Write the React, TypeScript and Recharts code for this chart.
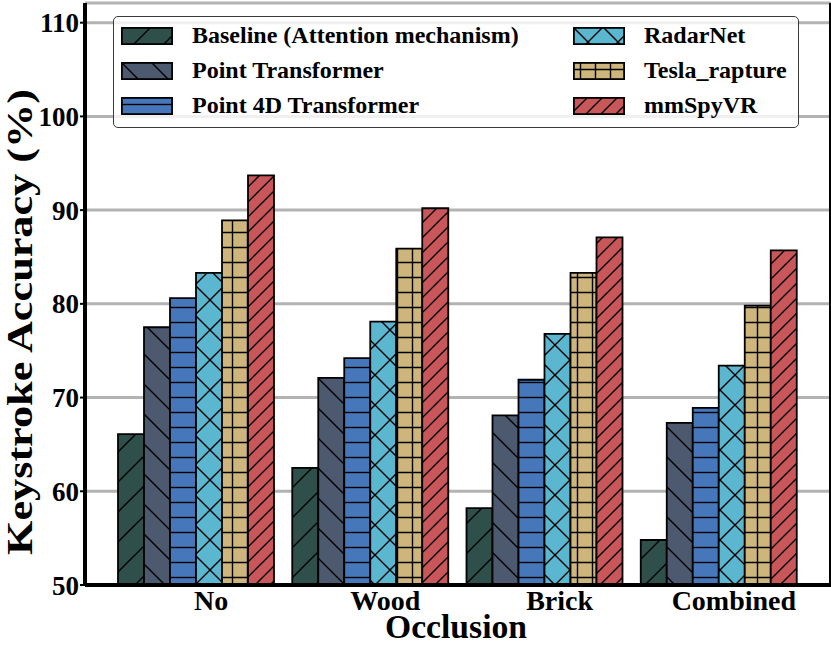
import React from "react";
import {
	BarChart,
	Bar,
	XAxis,
	YAxis,
	CartesianGrid,
	Label,
} from "recharts";

const categories = ["No", "Wood", "Brick", "Combined"];

// keystroke accuracy (%) per occlusion type
const baseline = [66.1, 62.5, 58.2, 54.8];
const pointTransformer = [77.5, 72.1, 68.1, 67.3];
const point4dTransformer = [80.6, 74.2, 71.9, 68.9];
const radarNet = [83.3, 78.1, 76.8, 73.4];
const teslaRapture = [88.9, 85.9, 83.3, 79.8];
const mmSpyVR = [93.7, 90.2, 87.1, 85.7];

const yTicks = [50, 60, 70, 80, 90, 100, 110];

const series = [
	{ key: "baseline", name: "Baseline (Attention mechanism)", values: baseline, color: "#2f4f4b", hatch: "fwd" },
	{ key: "pt", name: "Point Transformer", values: pointTransformer, color: "#4c596f", hatch: "back" },
	{ key: "p4d", name: "Point 4D Transformer", values: point4dTransformer, color: "#4577ba", hatch: "horiz" },
	{ key: "radar", name: "RadarNet", values: radarNet, color: "#5ab7cf", hatch: "cross" },
	{ key: "tesla", name: "Tesla_rapture", values: teslaRapture, color: "#cdb57b", hatch: "plus" },
	{ key: "mmspy", name: "mmSpyVR", values: mmSpyVR, color: "#c9575a", hatch: "fwd2" },
];

const data = categories.map((name, i) => {
	const row: Record<string, any> = { name };
	series.forEach((s) => (row[s.key] = s.values[i]));
	return row;
});

const FONT = '"Liberation Serif", "Times New Roman", Times, serif';
const LW = 1.4;

function HatchLines({ kind }: { kind: string }) {
	const st = { stroke: "#000", strokeWidth: LW, fill: "none" };
	if (kind === "fwd" || kind === "fwd2") {
		const s = kind === "fwd" ? 30 : 15;
		return (
			<path {...st} d={`M0,${s} L${s},0 M${-s / 2},${s / 2} L${s / 2},${-s / 2} M${s / 2},${s * 1.5} L${s * 1.5},${s / 2}`} />
		);
	}
	if (kind === "back") {
		const s = 30;
		return <path {...st} d={`M0,0 L${s},${s} M${-s / 2},${s / 2} L${s / 2},${s * 1.5} M${s / 2},${-s / 2} L${s * 1.5},${s / 2}`} />;
	}
	if (kind === "cross") {
		const s = 30;
		return (
			<path
				{...st}
				d={`M0,${s} L${s},0 M${-s / 2},${s / 2} L${s / 2},${-s / 2} M${s / 2},${s * 1.5} L${s * 1.5},${s / 2} M0,0 L${s},${s} M${-s / 2},${s / 2} L${s / 2},${s * 1.5} M${s / 2},${-s / 2} L${s * 1.5},${s / 2}`}
			/>
		);
	}
	if (kind === "horiz") {
		return <path {...st} d="M0,7.5 L15,7.5" />;
	}
	// plus
	return <path {...st} d="M0,7.5 L15,7.5 M7.5,0 L7.5,15" />;
}

function Patterns() {
	return (
		<>
			{series.map((s) => {
				const size = s.hatch === "fwd" || s.hatch === "back" || s.hatch === "cross" ? 30 : 15;
				return (
					<pattern key={s.key} id={`hatch-${s.key}`} patternUnits="userSpaceOnUse" width={size} height={size}>
						<rect width={size} height={size} fill={s.color} />
						<HatchLines kind={s.hatch} />
					</pattern>
				);
			})}
		</>
	);
}

function Swatch({ k }: { k: string }) {
	return (
		<svg width={52} height={18} style={{ display: "block" }}>
			<rect x={0.9} y={0.9} width={50.2} height={16.2} fill={`url(#hatch-${k})`} stroke="#000" strokeWidth={1.8} />
		</svg>
	);
}

function Legend() {
	const rows = [19, 54, 89];
	return (
		<div
			style={{
				position: "absolute",
				left: 113,
				top: 16,
				width: 686,
				height: 112,
				boxSizing: "border-box",
				border: "1.4px solid #3a3a3a",
				borderRadius: 5,
				background: "rgba(255,255,255,0.8)",
				fontFamily: FONT,
				fontWeight: "bold",
				fontSize: 24,
				color: "#000",
			}}
		>
			{series.map((s, i) => {
				const col = i < 3 ? 0 : 1;
				const top = rows[i % 3];
				return (
					<React.Fragment key={s.key}>
						<div style={{ position: "absolute", left: col ? 459 : 7, top: top - 9 }}>
							<Swatch k={s.key} />
						</div>
						<div style={{ position: "absolute", left: col ? 530 : 78, top: top - 15, lineHeight: "28px", whiteSpace: "nowrap" }}>
							{s.name}
						</div>
					</React.Fragment>
				);
			})}
		</div>
	);
}

const CategoryTick = (props: any) => {
	const { x, y, payload } = props;
	return (
		<text x={x + 14} y={y + 25} textAnchor="middle" fontFamily={FONT} fontWeight="bold" fontSize={28} fill="#000">
			{payload.value}
		</text>
	);
};

export default function App() {
	const tickStyle = { fontFamily: FONT, fontWeight: "bold", fontSize: 27, fill: "#000" };
	return (
		<div style={{ position: "absolute", left: 0, top: 0, width: 831, height: 645, background: "#fff" }}>
			<svg width={0} height={0} style={{ position: "absolute" }}>
				<defs>
					<Patterns />
				</defs>
			</svg>
			<BarChart
				width={831}
				height={645}
				data={data}
				margin={{ top: 3, right: 0, bottom: 0, left: 0 }}
				barCategoryGap={8}
				barGap={0}
			>
				<CartesianGrid horizontal vertical={false} stroke="#b3b3b3" strokeWidth={3} yAxisId="left" xAxisId="bottom" />
				<XAxis
					xAxisId="bottom"
					dataKey="name"
					height={60}
					padding={{ left: 25, right: 24 }}
					axisLine={{ stroke: "#000", strokeWidth: 4 }}
					tickLine={false}
					tickSize={0}
					tickMargin={0}
					tick={<CategoryTick />}
					interval={0}
				>
					<Label
						content={() => (
							<text
								x={456}
								y={638}
								textAnchor="middle"
								fontFamily={FONT}
								fontWeight="bold"
								fontSize={34}
								textLength={142}
								lengthAdjust="spacingAndGlyphs"
								fill="#000"
							>
								Occlusion
							</text>
						)}
					/>
				</XAxis>
				<XAxis
					xAxisId="top"
					orientation="top"
					dataKey="name"
					height={0}
					padding={{ left: 25, right: 24 }}
					axisLine={{ stroke: "#000", strokeWidth: 4 }}
					tick={false}
					mirror
					tickSize={5}
					tickLine={{ stroke: "#000", strokeWidth: 1.5 }}
					interval={0}
				/>
				<YAxis
					yAxisId="left"
					width={85}
					domain={[50, 112.1]}
					ticks={yTicks}
					allowDataOverflow
					axisLine={{ stroke: "#000", strokeWidth: 4 }}
					tickLine={{ stroke: "#000", strokeWidth: 2 }}
					tickSize={5}
					tickMargin={1}
					tick={tickStyle}
				>
					<Label
						content={() => (
							<text
								x={32}
								y={322}
								transform="rotate(-90, 32, 322)"
								textAnchor="middle"
								fontFamily={FONT}
								fontWeight="bold"
								fontSize={36}
								textLength={466}
								lengthAdjust="spacingAndGlyphs"
								fill="#000"
							>
								Keystroke Accuracy (%)
							</text>
						)}
					/>
				</YAxis>
				<YAxis
					yAxisId="right"
					orientation="right"
					width={5}
					domain={[50, 112.1]}
					ticks={yTicks}
					allowDataOverflow
					axisLine={{ stroke: "#000", strokeWidth: 4 }}
					mirror
					tick={false}
					tickSize={5}
					tickLine={{ stroke: "#000", strokeWidth: 1.5 }}
				/>
				{series.map((s) => (
					<Bar
						key={s.key}
						dataKey={s.key}
						name={s.name}
						xAxisId="bottom"
						yAxisId="left"
						fill={`url(#hatch-${s.key})`}
						stroke="#000"
						strokeWidth={1.8}
						isAnimationActive={false}
					/>
				))}
			</BarChart>
			<Legend />
		</div>
	);
}
